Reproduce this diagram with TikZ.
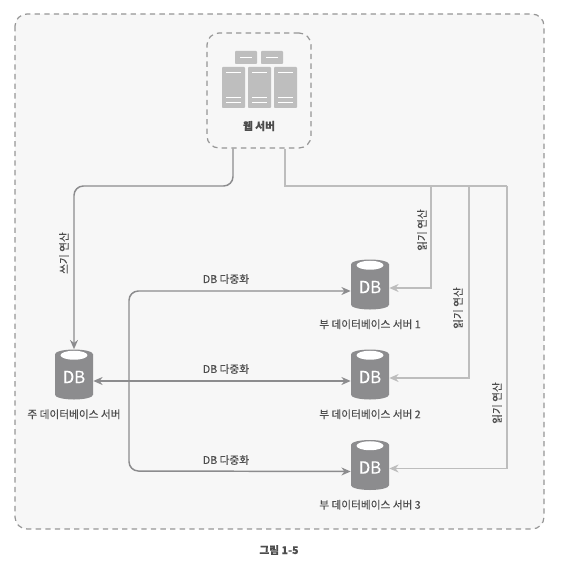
\documentclass[tikz,border=0pt]{standalone}
\usepackage{fontspec}
\setmainfont{Noto Sans CJK KR}
\newfontfamily\figfont{Noto Sans CJK KR}[FakeBold=0.25]
\usetikzlibrary{
  arrows.meta,
  calc,
  positioning,
  shapes.geometric
}
\definecolor{figInk}{HTML}{4D4D4D}
\definecolor{figPanel}{HTML}{F7F7F7}
\definecolor{figDash}{HTML}{969696}
\definecolor{figDark}{HTML}{8C8C8E}
\definecolor{figLight}{HTML}{BDBDBD}
\definecolor{figRack}{HTML}{BEBEBE}
\tikzset{
  every node/.style={font=\figfont\fontsize{8}{9.5}\selectfont, text=figInk, inner sep=0pt},
  panel/.style={
    rounded corners=9pt,
    draw=figDash,
    line width=0.9pt,
    dash pattern=on 4pt off 3.2pt
  },
  dbnode/.style={
    cylinder,
    shape border rotate=90,
    aspect=0.42,
    draw=none,
    fill=figDark,
    minimum height=37.5pt,
    minimum width=28.5pt,
    text=white,
    font=\figfont\fontsize{12.5}{13}\selectfont
  },
  writelink/.style={
    -{Stealth[length=7pt,width=6pt]},
    line width=1.1pt,
    draw=figDark,
    rounded corners=7pt
  },
  synclink/.style={
    {Stealth[length=7pt,width=6pt]}-{Stealth[length=7pt,width=6pt]},
    line width=1.1pt,
    draw=figDark,
    rounded corners=7pt
  },
  readlink/.style={
    -{Stealth[length=7pt,width=6pt]},
    line width=1.1pt,
    draw=figLight
  },
  vlabel/.style={rotate=90}
}
\begin{document}
\begin{tikzpicture}[x=0.75pt,y=-0.75pt]
  \useasboundingbox (0,0) rectangle (576,570);

  \draw[panel, fill=figPanel] (15,14) rectangle (544,529);

  \node[panel, minimum width=78pt, minimum height=86.25pt] (web) at (259,90.5) {};
  \node (webtext) at (259,126) {\textbf{웹 서버}};

  \foreach \x in {222,248,274}{
    \fill[figRack, rounded corners=0.6pt] (\x,67) rectangle ++(23,41);
    \draw[white, line width=0.6pt] (\x+4,72.5) -- ++(15,0);
    \draw[white, line width=0.6pt] (\x+4,97) -- ++(15,0);
    \draw[white, line width=0.6pt] (\x+4,102) -- ++(15,0);
  }
  \foreach \x in {235,261}{
    \fill[figRack, rounded corners=0.6pt] (\x,51) rectangle ++(22,13);
    \draw[white, line width=0.6pt] (\x+5,57) -- ++(12,0);
  }

  \node[dbnode] (master) at (74,377) {DB};
  \node[dbnode] (db1) at (370,287) {DB};
  \node[dbnode] (db2) at (370,377) {DB};
  \node[dbnode] (db3) at (370,467.5) {DB};
  \foreach \n in {master,db1,db2,db3}{
    \fill[white] ($(\n.north)+(0,-4.5pt)$) ellipse (13.5 and 4.5);
  }

  \node[below=7pt of master] (mastertext) {주 데이터베이스 서버};
  \node[below=7pt of db1] (db1text) {부 데이터베이스 서버 1};
  \node[below=7pt of db2] (db2text) {부 데이터베이스 서버 2};
  \node[below=7pt of db3] (db3text) {부 데이터베이스 서버 3};

  \coordinate (writeturn) at (233,186);
  \coordinate (readturn) at (285,186);
  \coordinate (readone) at (431,186);
  \coordinate (readtwo) at (469,186);
  \coordinate (readthree) at (507,186);
  \coordinate (syncturn) at (129,291);
  \coordinate (syncend) at (129,471);

  % read lines first, they sit under the dark ones
  \draw[readlink, -] ([xshift=19.5pt]web.south) -- (readturn) -- (readthree);
  \draw[readlink] (readone) |- ([yshift=-0.75pt]db1.east);
  \draw[readlink] (readtwo) |- ([yshift=-0.75pt]db2.east);
  \draw[readlink] (readthree) |- ([yshift=-0.75pt]db3.east);

  \draw[writelink] ([xshift=-19.5pt]web.south) -- (writeturn) -| (master.north);
  \draw[synclink] ([yshift=-3pt]db1.west) -- (syncturn) -- (syncend) -- ([yshift=-3pt]db3.west);
  \draw[synclink] ([yshift=-3pt]master.east) -- ([yshift=-3pt]db2.west);

  \node (synctext1) at (226,279) {DB 다중화};
  \node (synctext2) at (226,369) {DB 다중화};
  \node (synctext3) at (226,460) {DB 다중화};

  \node[vlabel] (writetext) at (64,253) {쓰기 연산};
  \node[vlabel] (readtext1) at (422,230) {읽기 연산};
  \node[vlabel] (readtext2) at (458,308) {읽기 연산};
  \node[vlabel] (readtext3) at (497,403) {읽기 연산};

  \node (figtext) at (279,550) {\textbf{그림 1-5}};
\end{tikzpicture}
\end{document}
